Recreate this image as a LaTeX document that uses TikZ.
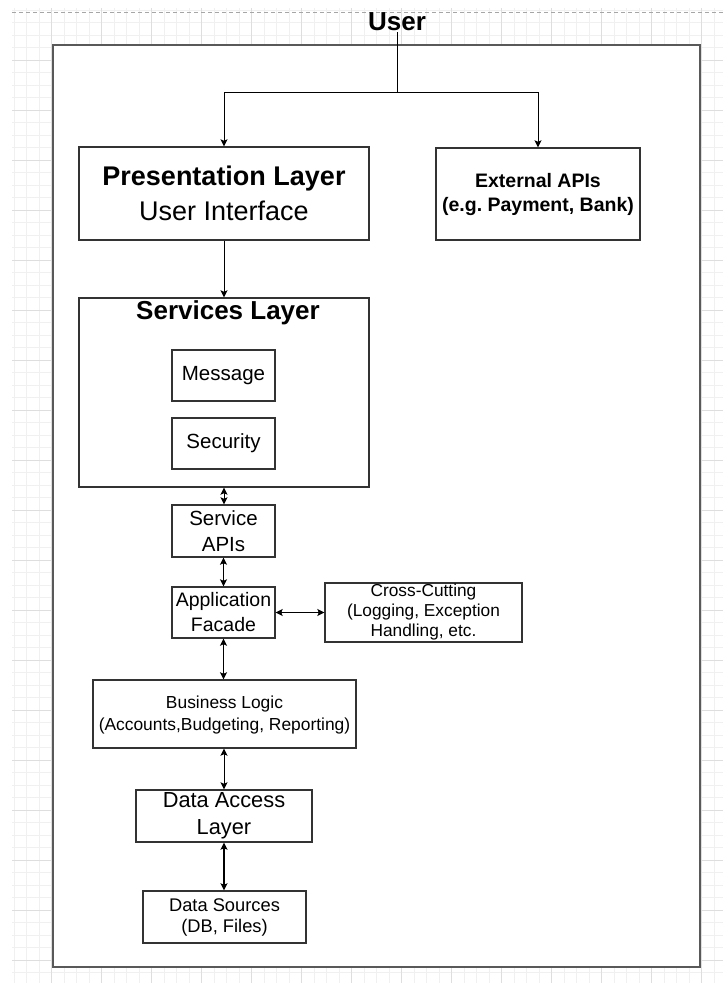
\documentclass[tikz,border=0pt]{standalone}
\usepackage{fontspec}
\setmainfont{Liberation Sans}
\usetikzlibrary{arrows.meta}
\newcommand\setfs[2]{\fontsize{#1}{#2}\selectfont}
\begin{document}
\frenchspacing
\begin{tikzpicture}[x=1pt,y=-1pt,
  >={Stealth[length=7pt,width=7pt,inset=1.5pt]},
  box/.style={draw=black!80, line width=1.4pt, fill=white, inner sep=0pt, align=center, text=black},
  conn/.style={draw=black, line width=0.9pt},
  thick conn/.style={draw=black, line width=1.8pt},
  minorgrid/.style={draw=black!6, line width=0.6pt},
  majorgrid/.style={draw=black!13, line width=0.7pt}]
\useasboundingbox (0,0) rectangle (723,983);
\fill[white] (0,0) rectangle (723,983);
% background grid
\foreach \x in {14,26.5,...,723} \draw[minorgrid] (\x,8) -- (\x,983);
\foreach \y in {10,22.5,...,983} \draw[minorgrid] (12,\y) -- (723,\y);
\foreach \x in {51.5,101.5,...,723} \draw[majorgrid] (\x,8) -- (\x,983);
\foreach \y in {60,110,...,983} \draw[majorgrid] (12,\y) -- (723,\y);
\draw[black!35, line width=0.8pt, dash pattern=on 4pt off 3pt] (12,12) -- (723,12);
% outer frame
\node[draw=black!65, line width=2pt, fill=white, minimum width=647pt, minimum height=922pt, inner sep=0pt] (frame) at (376.5,506) {};
% user
\node[font=\bfseries\setfs{26}{30}, inner sep=1pt] (user) at (397,22) {User};
\coordinate (j) at (397,92);
% boxes
\node[box, minimum width=290pt, minimum height=93pt, font=\setfs{27}{35}] (pres) at (224,193.5)
  {{\bfseries Presentation Layer}\\User Interface};
\node[box, minimum width=204pt, minimum height=92pt, font=\bfseries\setfs{19.5}{24}] (ext) at (538,194)
  {External APIs\\(e.g. Payment, Bank)};
\node[box, minimum width=290pt, minimum height=189pt] (serv) at (224,392.5) {};
\node[font=\bfseries\setfs{26}{30}, inner sep=0pt] (servt) at (228,313) {Services Layer};
\node[box, minimum width=103pt, minimum height=51pt, font=\setfs{20.5}{25}] (msg) at (223.5,375.5) {Message};
\node[box, minimum width=103pt, minimum height=51pt, font=\setfs{20.5}{25}] (sec) at (223.5,443.5) {Security};
\node[box, minimum width=103pt, minimum height=52pt, font=\setfs{20.5}{26}] (sapi) at (223.5,531) {Service\\APIs};
\node[box, minimum width=103pt, minimum height=51pt, font=\setfs{19.5}{25}] (fac) at (223.5,612.5) {Application\\Facade};
\node[box, minimum width=197pt, minimum height=59pt, font=\setfs{17.3}{20}] (cross) at (423.5,612.5)
  {Cross-Cutting\\(Logging, Exception\\Handling, etc.};
\node[box, minimum width=263pt, minimum height=68pt, font=\setfs{17.4}{22}, text depth=2pt] (biz) at (224.5,714)
  {Business Logic\\(Accounts,Budgeting, Reporting)};
\node[box, minimum width=176pt, minimum height=52pt, font=\setfs{21.8}{27}] (dal) at (224,816)
  {Data Access\\Layer};
\node[box, minimum width=163pt, minimum height=52pt, font=\setfs{18.3}{21}] (dsrc) at (224.5,917)
  {Data Sources\\(DB, Files)};
% connectors
\draw[conn] (user.south) -- (j);
\draw[conn,->] (j) -| (pres.north);
\draw[conn,->] (j) -| (ext.north);
\draw[conn,->] (pres.south) -- (serv.north);
\draw[conn,<->] (serv.south) -- (serv.south |- sapi.north);
\draw[conn,<->] (sapi.south) -- (fac.north);
\draw[conn,<->] (fac.east) -- (cross.west);
\draw[thick conn,<->] (fac.south) -- (fac.south |- biz.north);
\draw[conn,<->] (biz.south -| dal.north) -- (dal.north);
\draw[thick conn,<->] (dal.south) -- (dal.south |- dsrc.north);
\end{tikzpicture}
\end{document}
